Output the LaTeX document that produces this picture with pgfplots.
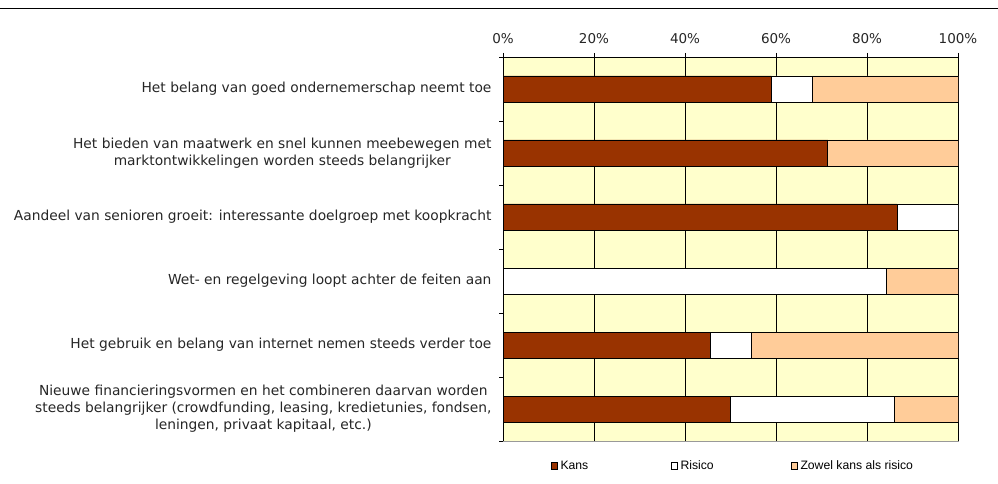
\documentclass[border=0pt]{standalone}
\usepackage{fontspec}
\setmainfont{DejaVu Sans}
\newfontfamily\legfont{Liberation Sans}
\usepackage{pgfplots}
\pgfplotsset{compat=1.18}
\definecolor{kans}{HTML}{993300}
\definecolor{zowel}{HTML}{FFCC99}
\definecolor{bg}{HTML}{FFFFCC}
\pgfplotstableread{
idx kans risico zowel
0 59.0 9.0 32.0
1 71.4 0.0 28.6
2 86.6 13.4 0.0
3 0.0 84.3 15.7
4 45.5 9.1 45.4
5 50.0 36.0 14.0
}\datatable
\begin{document}
\begin{tikzpicture}
\path[use as bounding box] (0,0) rectangle (998pt,484pt);
\draw[line width=0.9pt] (0,476pt) -- (998pt,476pt);
\begin{axis}[
  at={(503pt,43pt)}, anchor=south west,
  scale only axis, width=455pt, height=384pt,
  xbar stacked, bar width=26pt,
  xmin=0, xmax=100, ymin=-0.5, ymax=5.5, y dir=reverse,
  axis x line*=top, axis y line*=left,
  axis line style={-, black, line width=0.8pt},
  axis background/.style={fill=bg, draw=gray!80, line width=0.8pt},
  xtick={0,20,40,60,80,100},
  xticklabel={\pgfmathprintnumber{\tick}\%},
  /pgf/number format/assume math mode=true,
  xmajorgrids, major grid style={black, line width=0.7pt},
  tick align=outside, tick style={black, line width=0.7pt},
  major tick length=4pt, minor tick length=4pt,
  ytick={0,1,2,3,4,5},
  major y tick style={draw=none},
  minor ytick={-0.5,0.5,1.5,2.5,3.5,4.5,5.5},
  yticklabels={
    Het belang van goed ondernemerschap neemt toe,
    {Het bieden van maatwerk en snel kunnen meebewegen met\\marktontwikkelingen worden steeds belangrijker},
    {Aandeel van senioren groeit: interessante doelgroep met koopkracht},
    {Wet- en regelgeving loopt achter de feiten aan},
    {Het gebruik en belang van internet nemen steeds verder toe},
    {Nieuwe financieringsvormen en het combineren daarvan worden\\steeds belangrijker (crowdfunding, leasing, kredietunies, fondsen,\\leningen, privaat kapitaal, etc.)}
  },
  yticklabel style={font=\fontsize{13.8}{17}\selectfont, align=center, xshift=-4pt, text=black!85},
  xticklabel style={font=\fontsize{13.5}{16}\selectfont, yshift=6pt, text=black!85},
  legend style={at={(0.5,-0.065)}, anchor=center, legend columns=3, draw=none, fill=none,
    font=\legfont\fontsize{12.2}{13}\selectfont,
    nodes={inner sep=1.5pt}},
  legend image code/.code={\draw[#1, draw=black, line width=0.6pt] (0pt,-3.2pt) rectangle (6.4pt,3.2pt);},
  every axis plot/.append style={draw=black, line width=0.8pt},
]
\addplot[fill=kans] table[x=kans, y=idx] {\datatable};
\addplot[fill=white] table[x=risico, y=idx] {\datatable};
\addplot[fill=zowel] table[x=zowel, y=idx] {\datatable};
\legend{\makebox[110pt][l]{\hspace{1.5pt}Kans}, \makebox[110pt][l]{\hspace{1.5pt}Risico}, \makebox[110pt][l]{\hspace{1.5pt}Zowel kans als risico}}
\end{axis}
\end{tikzpicture}
\end{document}
